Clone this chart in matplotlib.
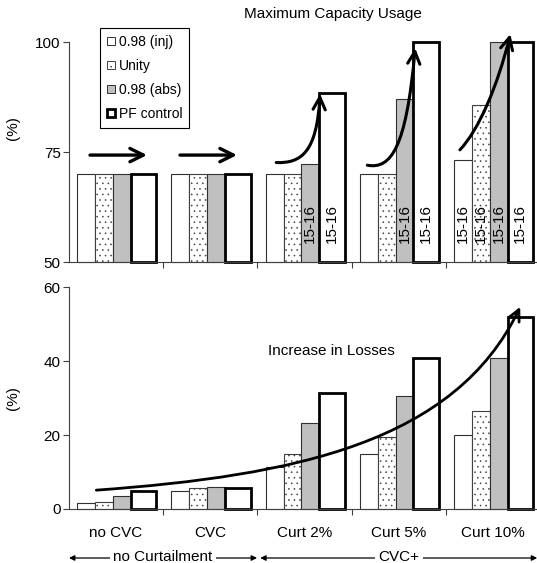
import matplotlib
matplotlib.use("Agg")
import matplotlib.pyplot as plt
from matplotlib.patches import Patch, FancyArrowPatch
from matplotlib.path import Path
from matplotlib.transforms import blended_transform_factory

plt.rcParams['font.family'] = ['Liberation Sans', 'DejaVu Sans']
plt.rcParams['font.size'] = 11
plt.rcParams['hatch.linewidth'] = 0.4

# ---------------- data ----------------
categories = ['no CVC', 'CVC', 'Curt 2%', 'Curt 5%', 'Curt 10%']
series = ['0.98 (inj)', 'Unity', '0.98 (abs)', 'PF control']

cap_inj = [70, 70, 70, 70, 73.1]
cap_unity = [70, 70, 70, 70, 85.6]
cap_abs = [70, 70, 72.2, 87, 100]
cap_pf = [70, 70, 88.5, 100, 100]

loss_inj = [1.5, 4.9, 11.5, 14.9, 20.1]
loss_unity = [2.0, 5.6, 14.9, 19.4, 26.6]
loss_abs = [3.6, 5.9, 23.3, 30.7, 41.0]
loss_pf = [4.9, 5.6, 31.4, 40.8, 52.0]

lab_inj = ['', '', '', '', '15-16']
lab_unity = ['', '', '', '', '15-16']
lab_abs = ['', '', '15-16', '15-16', '15-16']
lab_pf = ['', '', '15-16', '15-16', '15-16']

cap_vals = [cap_inj, cap_unity, cap_abs, cap_pf]
loss_vals = [loss_inj, loss_unity, loss_abs, loss_pf]
cap_labels = [lab_inj, lab_unity, lab_abs, lab_pf]

group_labels = ['no Curtailment', 'CVC+']

# ---------------- styles ----------------
offsets = [0.088, 0.279, 0.467, 0.655]
widths = [0.191, 0.188, 0.188, 0.273]
faces = ['white', 'white', '#c0c0c0', 'white']
edges = ['#303030', '#404040', '#303030', 'black']
lws = [0.8, 0.8, 0.8, 2.0]
hatches = [None, '...', None, None]

W, H = 537, 563
fig = plt.figure(figsize=(W / 100, H / 100), dpi=100)

def fx(px):
    return px / W

def fy(py):
    return 1 - py / H

ax1 = fig.add_axes([fx(69), fy(262), 471 / W, 220 / H])
ax2 = fig.add_axes([fx(69), fy(509), 471 / W, 221.7 / H])

def draw_bars(ax, vals, base):
    for i in range(4):
        xs = [c - 0.5 + offsets[i] for c in range(len(categories))]
        ax.bar(xs, [v - base for v in vals[i]], bottom=base, width=widths[i],
               align='edge', color=faces[i], edgecolor=edges[i], linewidth=lws[i],
               hatch=hatches[i], clip_on=False, zorder=2)

def style_axis(ax):
    for s in ['top', 'right']:
        ax.spines[s].set_visible(False)
    for s in ['left', 'bottom']:
        ax.spines[s].set_color('#404040')
        ax.spines[s].set_linewidth(0.8)
        ax.spines[s].set_zorder(4)
    ax.set_xlim(-0.5, 4.5)
    ax.set_xticks([0.5, 1.5, 2.5, 3.5])
    ax.set_xticklabels([])
    ax.tick_params(axis='x', which='major', length=4, color='#404040', direction='out')
    ax.tick_params(axis='y', length=4, color='#404040', pad=2, labelsize=11)

ax1.set_ylim(50, 100)
ax2.set_ylim(0, 60)
draw_bars(ax1, cap_vals, 50)
draw_bars(ax2, loss_vals, 0)
style_axis(ax1)
style_axis(ax2)
ax1.set_ylim(50, 100)
ax1.set_yticks([50, 75, 100])
ax2.set_ylim(0, 60)
ax2.set_yticks([0, 20, 40, 60])

ax2.set_xticks(range(len(categories)), minor=True)
ax2.set_xticklabels(categories, minor=True)
ax2.tick_params(axis='x', which='minor', length=0, pad=12, labelsize=11)

ax1.set_ylabel('(%)', fontsize=11)
ax1.yaxis.set_label_coords(-0.104, 0.61)
ax2.set_ylabel('(%)', fontsize=11)
ax2.yaxis.set_label_coords(-0.104, 0.5)

# rotated period labels
for i in range(4):
    for c in range(len(categories)):
        if cap_labels[i][c]:
            ax1.text(c - 0.5 + offsets[i] + widths[i] / 2, 58.7, cap_labels[i][c],
                     rotation=90, ha='center', va='center', fontsize=11, zorder=3)

# titles
fig.text(fx(333), fy(14), 'Maximum Capacity Usage', ha='center', va='center', fontsize=11)
ax2.text(2.29, 42.8, 'Increase in Losses', ha='center', va='center', fontsize=11)

# legend
handles = [Patch(facecolor=faces[i], edgecolor=edges[i], linewidth=(0.7 if i < 3 else 2.0),
                 hatch=hatches[i]) for i in range(4)]
leg = ax1.legend(handles, series, loc='upper left', bbox_to_anchor=(0.066, 1.064),
                 frameon=True, fancybox=False, edgecolor='black', framealpha=1,
                 handlelength=0.55, handleheight=0.55, handletextpad=0.3,
                 labelspacing=0.72, borderpad=0.5, fontsize=10, borderaxespad=0)
leg.get_frame().set_linewidth(0.8)

# trend arrows (annotations)
def bez_arrow(ax, pts, lw=2.2, ms=22):
    codes = [Path.MOVETO, Path.CURVE4, Path.CURVE4, Path.CURVE4]
    p = FancyArrowPatch(path=Path(pts, codes), arrowstyle='->', mutation_scale=ms,
                        linewidth=lw, color='black', transform=ax.transData,
                        clip_on=False, zorder=5)
    ax.add_patch(p)

for (x0, x1) in [(-0.277, 0.328), (0.678, 1.283)]:
    ax1.annotate('', xy=(x1, 74.3), xytext=(x0, 74.3),
                 arrowprops=dict(arrowstyle='->', lw=2.4, mutation_scale=24, color='black',
                                 shrinkA=0, shrinkB=0))

bez_arrow(ax1, [(1.70, 72.6), (1.97, 72.4), (2.13, 75.0), (2.165, 88.2)])
bez_arrow(ax1, [(2.667, 72.0), (2.92, 71.0), (3.08, 76.0), (3.175, 98.6)])
bez_arrow(ax1, [(3.65, 75.5), (3.85, 80.0), (4.05, 90.0), (4.185, 101.8)])

bez_arrow(ax2, [(-0.21, 5.1), (1.9, 9.0), (3.6, 18.0), (4.29, 54.7)], lw=2.0, ms=20)

# group arrows below x axis
tr = blended_transform_factory(ax2.transData, ax2.transAxes)
yline = -0.221
ytext = -0.216
spans = [(-0.5, 1.496), (1.53, 4.47)]
for (a, b), lab in zip(spans, group_labels):
    ax2.annotate('', xy=(a, yline), xytext=(b, yline), xycoords=tr, textcoords=tr,
                 arrowprops=dict(arrowstyle='<|-|>', lw=0.9, mutation_scale=8, color='black',
                                 shrinkA=0, shrinkB=0), annotation_clip=False)
    ax2.text((a + b) / 2, ytext, lab, transform=tr, ha='center', va='center', fontsize=11,
             bbox=dict(facecolor='white', edgecolor='none', pad=2.5), clip_on=False, zorder=6)

fig.savefig('out.png', dpi=100)
